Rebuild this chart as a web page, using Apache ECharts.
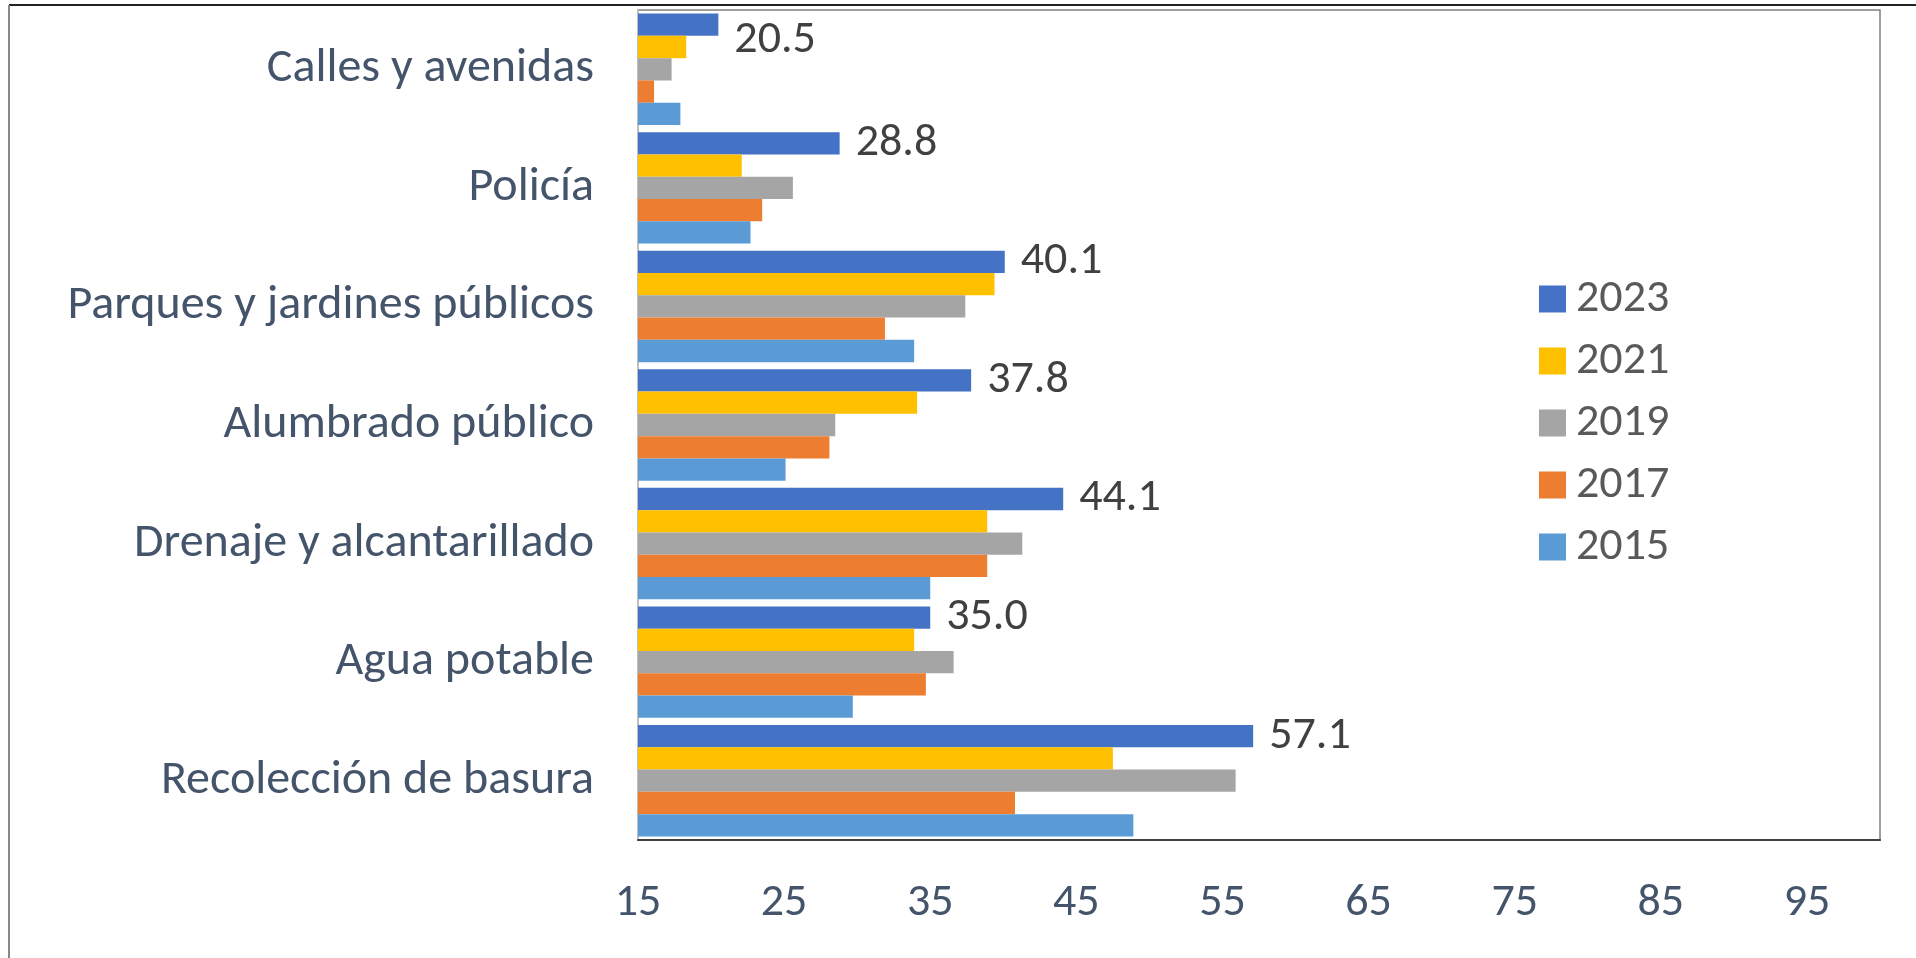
<!DOCTYPE html>
<html>
<head>
<meta charset="utf-8">
<script src="https://cdn.jsdelivr.net/npm/echarts@6/dist/echarts.min.js"></script>
<style>
html,body{margin:0;padding:0;background:#fff;}
#chart{width:1916px;height:958px;}
</style>
</head>
<body>
<div id="chart"></div>
<script>
const categories = ['Calles y avenidas','Policía','Parques y jardines públicos','Alumbrado público','Drenaje y alcantarillado','Agua potable','Recolección de basura'];
const years = ['2023','2021','2019','2017','2015'];
const v2023 = [20.5, 28.8, 40.1, 37.8, 44.1, 35.0, 57.1];
const v2021 = [18.3, 22.1, 39.4, 34.1, 38.9, 33.9, 47.5];
const v2019 = [17.3, 25.6, 37.4, 28.5, 41.3, 36.6, 55.9];
const v2017 = [16.1, 23.5, 31.9, 28.1, 38.9, 34.7, 40.8];
const v2015 = [17.9, 22.7, 33.9, 25.1, 35.0, 29.7, 48.9];
const axisMin = 15, axisMax = 100, axisStep = 10;

const FONT = 'Carlito, Lato, "Open Sans", sans-serif';
const FS = 46;
const colors = ['#4472C4','#FFC000','#A5A5A5','#ED7D31','#5B9BD5'];
const seriesValues = [v2023, v2021, v2019, v2017, v2015];

const series = seriesValues.map((vals, i) => {
  const s = {
    name: years[i],
    type: 'bar',
    barGap: '0%',
    barCategoryGap: '6%',
    clip: true,
    itemStyle: { color: colors[i] },
    data: vals.map((v, j) => {
      if (i === 0 && j === 0) return { value: v, label: { offset: [0, 16] } };
      return v;
    })
  };
  if (i === 0) {
    s.label = {
      show: true, position: 'right', distance: 16,
      fontSize: FS, color: '#404040', fontFamily: FONT,
      formatter: p => Number(p.value).toFixed(1)
    };
  }
  return s;
});

const chart = echarts.init(document.getElementById('chart'), null, {renderer: 'canvas'});
chart.setOption({
  animation: false,
  backgroundColor: '#fff',
  color: colors,
  textStyle: { fontFamily: FONT },
  graphic: [
    { type: 'line', shape: { x1: 9, y1: 5, x2: 1916, y2: 5 }, style: { stroke: '#222', lineWidth: 2 } },
    { type: 'line', shape: { x1: 9, y1: 5, x2: 9, y2: 958 }, style: { stroke: '#888', lineWidth: 2 } }
  ],
  grid: {
    left: 638, top: 10, right: 36, bottom: 118,
    show: true, borderColor: '#808080', borderWidth: 1.5, backgroundColor: 'transparent'
  },
  legend: {
    orient: 'vertical', left: 1534, top: 271,
    itemWidth: 27, itemHeight: 27, itemGap: 16,
    icon: 'rect',
    data: years,
    textStyle: { fontSize: FS, color: '#595959', fontFamily: FONT, lineHeight: 46, padding: [0,0,0,5] }
  },
  xAxis: {
    type: 'value', min: axisMin, max: axisMax, interval: axisStep, startValue: axisMin,
    axisLine: { show: true, lineStyle: { color: '#404040', width: 2 } },
    axisTick: { show: false },
    splitLine: { show: false },
    axisLabel: { fontSize: FS, color: '#44546A', fontFamily: FONT, margin: 40, showMaxLabel: false }
  },
  yAxis: {
    type: 'category', data: categories, inverse: true,
    axisLine: { show: true, lineStyle: { color: '#bfbfbf', width: 2 } },
    axisTick: { show: false },
    axisLabel: { fontSize: 48, color: '#44546A', fontFamily: FONT, margin: 44 }
  },
  series: series
});
</script>
</body>
</html>
